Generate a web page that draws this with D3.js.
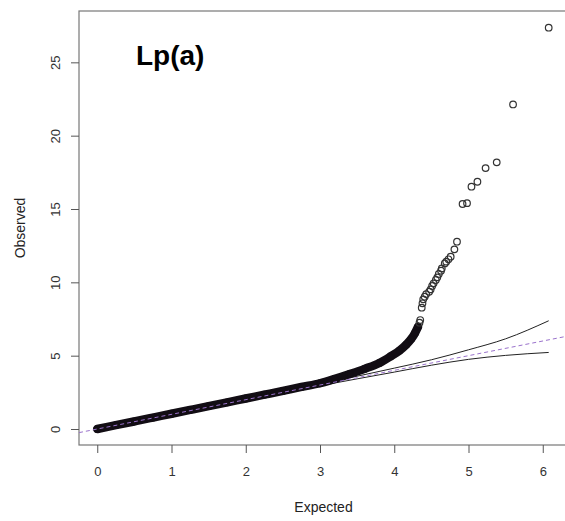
<!DOCTYPE html>
<html>
<head>
<meta charset="utf-8">
<script src="https://cdn.jsdelivr.net/npm/d3@7"></script>
<style>
  html, body { margin: 0; padding: 0; background: #fff; }
  svg { display: block; font-family: "Liberation Sans", Arial, Helvetica, sans-serif; }
</style>
</head>
<body>
<svg id="chart" width="565" height="521"></svg>
<script>
// Q-Q plot of association p-values for Lp(a): -log10 expected vs observed

// Dense body of the distribution (heavily overplotted points)
const bandExpected = [0.00, 0.25, 0.50, 0.75, 1.00, 1.25, 1.50, 1.75, 2.00, 2.25, 2.50, 2.75,
                      3.00, 3.20, 3.40, 3.60, 3.80, 3.95, 4.07, 4.16, 4.23, 4.28, 4.32];
const bandObserved = [0.00, 0.26, 0.52, 0.78, 1.04, 1.30, 1.56, 1.82, 2.08, 2.34, 2.60, 2.87,
                      3.12, 3.42, 3.75, 4.10, 4.50, 4.95, 5.35, 5.75, 6.15, 6.55, 6.97];

// Individually visible points in the upper tail
const tailExpected = [4.34, 4.35, 4.37, 4.38, 4.39, 4.41, 4.43, 4.47, 4.49, 4.51, 4.53, 4.56,
                      4.58, 4.60, 4.63, 4.64, 4.68, 4.70, 4.73, 4.76, 4.81, 4.845,
                      4.92, 4.98, 5.04, 5.12, 5.23, 5.38, 5.60, 6.08];
const tailObserved = [7.25, 7.43, 8.27, 8.57, 8.84, 9.02, 9.20, 9.36, 9.52, 9.75, 9.93, 10.16,
                      10.34, 10.57, 10.79, 10.95, 11.29, 11.41, 11.57, 11.75, 12.25, 12.77,
                      15.34, 15.40, 16.52, 16.86, 17.79, 18.18, 22.13, 27.36];

// Confidence envelope under the null
const ciExpected = [0.0, 1.0, 2.0, 3.0, 3.5, 4.0, 4.5, 5.0, 5.5, 6.08];
const ciUpper    = [0.0, 1.01, 2.02, 3.06, 3.60, 4.15, 4.72, 5.40, 6.15, 7.38];
const ciLower    = [0.0, 0.99, 1.98, 2.95, 3.42, 3.88, 4.35, 4.75, 5.02, 5.22];

const xTicks = [0, 1, 2, 3, 4, 5, 6];
const yTicks = [0, 5, 10, 15, 20, 25];

const title = "Lp(a)";
const xTitle = "Expected";
const yTitle = "Observed";

const svg = d3.select("#chart");

const plot = { left: 79, right: 568, top: 11, bottom: 445 };

const x = d3.scaleLinear().domain([-0.246, 6.34]).range([plot.left, plot.right]);
const y = d3.scaleLinear().domain([-1.09, 28.5]).range([plot.bottom, plot.top]);

// Plot frame
svg.append("rect")
  .attr("x", plot.left).attr("y", plot.top)
  .attr("width", plot.right - plot.left).attr("height", plot.bottom - plot.top)
  .attr("fill", "none").attr("stroke", "#777").attr("stroke-width", 1.2);

// Axes
const xAxis = d3.axisBottom(x).tickValues(xTicks).tickSize(8).tickPadding(14).tickFormat(d3.format("d"));
const gx = svg.append("g").attr("transform", `translate(0,${plot.bottom})`).call(xAxis);
gx.select(".domain").remove();
gx.selectAll(".tick line").attr("stroke", "#555").attr("stroke-width", 1);
gx.selectAll(".tick text").attr("fill", "#333").attr("font-size", 13).attr("font-family", null);

const yAxis = d3.axisLeft(y).tickValues(yTicks).tickSize(8).tickFormat(d3.format("d"));
const gy = svg.append("g").attr("transform", `translate(${plot.left},0)`).call(yAxis);
gy.select(".domain").remove();
gy.selectAll(".tick line").attr("stroke", "#555").attr("stroke-width", 1);
gy.selectAll(".tick text")
  .attr("fill", "#333").attr("font-size", 13).attr("font-family", null)
  .attr("x", null).attr("dy", null)
  .attr("text-anchor", "middle")
  .attr("transform", "translate(-19,0) rotate(-90)");

// Axis titles
svg.append("text")
  .attr("x", (plot.left + plot.right) / 2).attr("y", 512)
  .attr("text-anchor", "middle").attr("font-size", 14).attr("fill", "#222")
  .text(xTitle);
svg.append("text")
  .attr("transform", `translate(25,${(plot.top + plot.bottom) / 2}) rotate(-90)`)
  .attr("text-anchor", "middle").attr("font-size", 14).attr("fill", "#222")
  .text(yTitle);

const g = svg.append("g");

// Confidence envelope
const ciLine = d3.line().curve(d3.curveMonotoneX).x(d => x(d[0])).y(d => y(d[1]));
g.append("path").datum(ciExpected.map((e, i) => [e, ciUpper[i]]))
  .attr("d", ciLine).attr("fill", "none").attr("stroke", "#222").attr("stroke-width", 1);
g.append("path").datum(ciExpected.map((e, i) => [e, ciLower[i]]))
  .attr("d", ciLine).attr("fill", "none").attr("stroke", "#222").attr("stroke-width", 1);

// Overplotted body: a continuous run of points
const bandPts = bandExpected.map((e, i) => [e, bandObserved[i]]);
g.append("path").datum(bandPts)
  .attr("d", d3.line().curve(d3.curveMonotoneX).x(d => x(d[0])).y(d => y(d[1])))
  .attr("fill", "none").attr("stroke", "#120d14").attr("stroke-width", 8.5)
  .attr("stroke-linecap", "round").attr("stroke-linejoin", "round");

g.selectAll("circle.band").data(bandPts).join("circle")
  .attr("class", "band")
  .attr("cx", d => x(d[0])).attr("cy", d => y(d[1])).attr("r", 3.3)
  .attr("fill", "none").attr("stroke", "#120d14").attr("stroke-width", 1.2);

// Tail points
g.selectAll("circle.tail").data(tailExpected.map((e, i) => [e, tailObserved[i]])).join("circle")
  .attr("class", "tail")
  .attr("cx", d => x(d[0])).attr("cy", d => y(d[1])).attr("r", 3.3)
  .attr("fill", "none").attr("stroke", "#333").attr("stroke-width", 1.2);

// Identity reference line
const [x0, x1] = x.domain();
g.append("line")
  .attr("x1", x(x0)).attr("y1", y(x0)).attr("x2", x(x1)).attr("y2", y(x1))
  .attr("stroke", "#9a72cc").attr("stroke-width", 1).attr("stroke-dasharray", "4,3");

// Panel title
svg.append("text")
  .attr("x", 136).attr("y", 65)
  .attr("font-size", 28).attr("font-weight", "bold").attr("fill", "#000")
  .text(title);
</script>
</body>
</html>
